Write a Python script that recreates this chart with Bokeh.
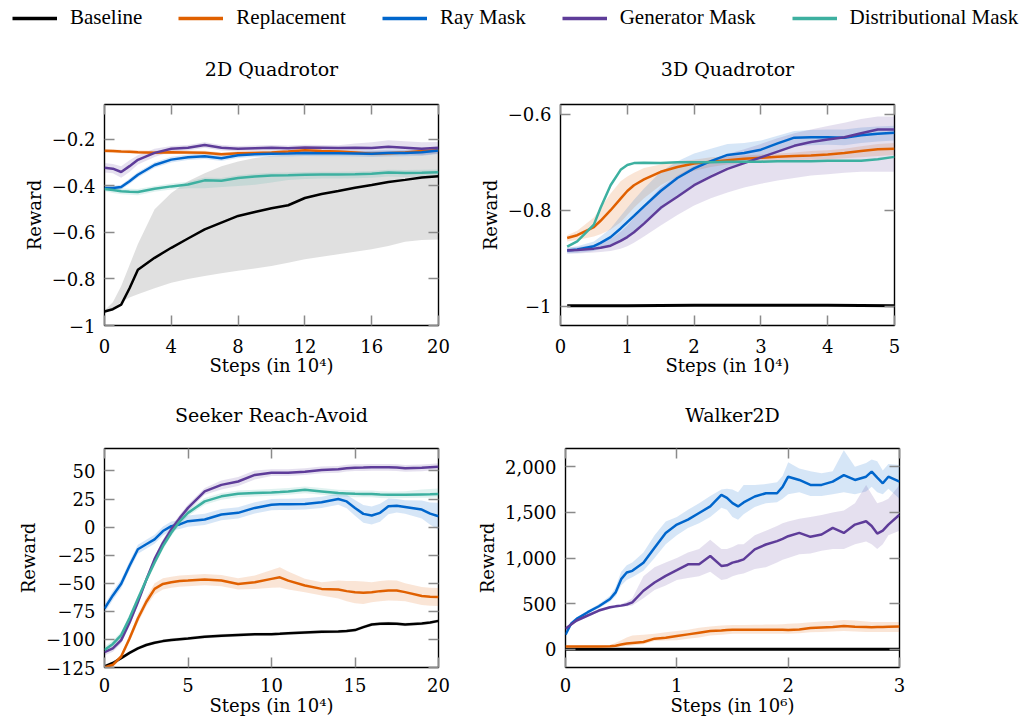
from bokeh.plotting import figure
from bokeh.models import (Legend, LegendItem, LinearAxis, FixedTicker, CustomLabelingPolicy,
                          CustomJSTickFormatter, Range1d, ColumnDataSource)
from bokeh.layouts import column, row
from bokeh.embed import file_html
from bokeh.resources import INLINE

# ---------------- series / colours ----------------
SERIES = ["Baseline", "Replacement", "Ray Mask", "Generator Mask", "Distributional Mask"]
COLORS = ["#000000", "#E06000", "#0066CC", "#5E3C99", "#3DB0A0"]

# ---------------- 2D Quadrotor ----------------
q2_x = [0, 0.5, 1, 1.5, 2, 3, 4, 5, 6, 7, 8, 9, 10, 11, 12, 13, 14, 15, 16, 17, 18, 19, 20]
q2_baseline = [-0.94, -0.93, -0.91, -0.84, -0.76, -0.709, -0.666, -0.626, -0.587, -0.558, -0.529, -0.512,
               -0.496, -0.483, -0.452, -0.435, -0.422, -0.408, -0.396, -0.383, -0.374, -0.364, -0.358]
q2_baseline_hi = [-0.935, -0.90, -0.83, -0.74, -0.65, -0.50, -0.43, -0.38, -0.345, -0.315, -0.295, -0.28,
                  -0.27, -0.265, -0.26, -0.26, -0.255, -0.255, -0.25, -0.25, -0.25, -0.25, -0.25]
q2_baseline_lo = [-0.95, -0.93, -0.90, -0.88, -0.866, -0.84, -0.816, -0.80, -0.787, -0.775, -0.765, -0.755,
                  -0.744, -0.73, -0.715, -0.705, -0.694, -0.683, -0.672, -0.658, -0.64, -0.632, -0.63]
q2_replacement = [-0.249, -0.25, -0.252, -0.253, -0.255, -0.257, -0.255, -0.256, -0.257, -0.264, -0.26, -0.258,
                  -0.256, -0.252, -0.247, -0.25, -0.252, -0.256, -0.262, -0.26, -0.256, -0.25, -0.247]
q2_replacement_hi = [-0.241, -0.242, -0.244, -0.245, -0.247, -0.249, -0.247, -0.248, -0.249, -0.256, -0.252, -0.25,
                     -0.248, -0.244, -0.239, -0.242, -0.244, -0.248, -0.254, -0.252, -0.248, -0.242, -0.239]
q2_replacement_lo = [-0.257, -0.258, -0.26, -0.261, -0.263, -0.265, -0.263, -0.264, -0.265, -0.272, -0.268, -0.266,
                     -0.264, -0.26, -0.255, -0.258, -0.26, -0.264, -0.27, -0.268, -0.264, -0.258, -0.255]
q2_ray = [-0.409, -0.409, -0.405, -0.38, -0.352, -0.31, -0.287, -0.277, -0.272, -0.281, -0.268, -0.264,
          -0.262, -0.261, -0.259, -0.26, -0.26, -0.261, -0.262, -0.259, -0.258, -0.255, -0.248]
q2_ray_hi = [-0.399, -0.399, -0.395, -0.368, -0.34, -0.298, -0.275, -0.265, -0.26, -0.269, -0.256, -0.252,
             -0.25, -0.249, -0.247, -0.248, -0.248, -0.249, -0.248, -0.245, -0.244, -0.24, -0.233]
q2_ray_lo = [-0.419, -0.419, -0.415, -0.392, -0.364, -0.322, -0.299, -0.289, -0.284, -0.293, -0.28, -0.276,
             -0.274, -0.273, -0.271, -0.272, -0.272, -0.273, -0.276, -0.273, -0.272, -0.27, -0.263]
q2_generator = [-0.322, -0.326, -0.34, -0.315, -0.288, -0.258, -0.24, -0.236, -0.224, -0.236, -0.24, -0.238,
                -0.236, -0.238, -0.235, -0.236, -0.237, -0.236, -0.237, -0.232, -0.236, -0.24, -0.236]
q2_generator_hi = [-0.302, -0.306, -0.315, -0.29, -0.268, -0.24, -0.228, -0.224, -0.212, -0.224, -0.228, -0.226,
                   -0.224, -0.226, -0.223, -0.224, -0.225, -0.218, -0.212, -0.204, -0.208, -0.212, -0.211]
q2_generator_lo = [-0.342, -0.346, -0.365, -0.34, -0.308, -0.276, -0.252, -0.248, -0.236, -0.248, -0.252, -0.25,
                   -0.248, -0.25, -0.247, -0.248, -0.249, -0.254, -0.262, -0.26, -0.264, -0.268, -0.261]
q2_distributional = [-0.413, -0.418, -0.423, -0.425, -0.426, -0.412, -0.402, -0.394, -0.376, -0.378, -0.366, -0.36,
                     -0.355, -0.354, -0.352, -0.351, -0.351, -0.35, -0.348, -0.342, -0.344, -0.343, -0.341]
q2_distributional_hi = [-0.403, -0.406, -0.41, -0.412, -0.413, -0.4, -0.39, -0.382, -0.364, -0.366, -0.354, -0.348,
                        -0.343, -0.342, -0.34, -0.339, -0.339, -0.338, -0.336, -0.33, -0.332, -0.331, -0.329]
q2_distributional_lo = [-0.423, -0.43, -0.436, -0.438, -0.44, -0.425, -0.415, -0.41, -0.41, -0.405, -0.40, -0.395,
                        -0.385, -0.375, -0.37, -0.368, -0.368, -0.367, -0.365, -0.36, -0.362, -0.361, -0.36]
q2_xticks = [0, 4, 8, 12, 16, 20]
q2_yticks = [-1, -0.8, -0.6, -0.4, -0.2]

# ---------------- 3D Quadrotor ----------------
q3_x = [0.1, 0.25, 0.5, 0.6, 0.75, 0.9, 1.0, 1.1, 1.25, 1.5, 1.75, 2.0, 2.25, 2.5, 2.75, 3.0, 3.25, 3.5,
        3.75, 4.0, 4.25, 4.5, 4.75, 5.0]
q3_baseline_x = [0.1, 1, 2, 3, 4, 5]
q3_baseline = [-0.999, -0.999, -0.998, -0.998, -0.998, -0.999]
q3_replacement = [-0.858, -0.852, -0.835, -0.822, -0.8, -0.776, -0.76, -0.748, -0.736, -0.72, -0.71, -0.703,
                  -0.699, -0.696, -0.693, -0.691, -0.689, -0.687, -0.686, -0.684, -0.681, -0.677, -0.673, -0.672]
q3_replacement_hi = [-0.852, -0.843, -0.815, -0.795, -0.765, -0.74, -0.73, -0.722, -0.712, -0.705, -0.698, -0.695,
                     -0.69, -0.688, -0.686, -0.684, -0.682, -0.68, -0.677, -0.675, -0.672, -0.667, -0.662, -0.66]
q3_replacement_lo = [-0.865, -0.862, -0.855, -0.85, -0.84, -0.825, -0.81, -0.795, -0.775, -0.748, -0.73, -0.718,
                     -0.71, -0.705, -0.702, -0.70, -0.698, -0.696, -0.695, -0.694, -0.692, -0.69, -0.687, -0.685]
q3_ray = [-0.884, -0.882, -0.875, -0.868, -0.856, -0.838, -0.825, -0.812, -0.792, -0.76, -0.733, -0.713,
          -0.698, -0.685, -0.681, -0.674, -0.661, -0.649, -0.648, -0.648, -0.649, -0.644, -0.641, -0.639]
q3_ray_hi = [-0.878, -0.875, -0.865, -0.855, -0.838, -0.812, -0.795, -0.778, -0.755, -0.72, -0.698, -0.682,
             -0.672, -0.662, -0.66, -0.655, -0.645, -0.635, -0.633, -0.632, -0.632, -0.628, -0.626, -0.624]
q3_ray_lo = [-0.89, -0.889, -0.885, -0.88, -0.872, -0.862, -0.855, -0.845, -0.828, -0.80, -0.77, -0.745,
             -0.727, -0.71, -0.703, -0.694, -0.68, -0.667, -0.665, -0.664, -0.665, -0.66, -0.657, -0.655]
q3_generator = [-0.884, -0.883, -0.88, -0.878, -0.874, -0.864, -0.856, -0.846, -0.828, -0.795, -0.772, -0.748,
                -0.73, -0.714, -0.702, -0.69, -0.678, -0.666, -0.658, -0.653, -0.648, -0.64, -0.632, -0.632]
q3_generator_hi = [-0.878, -0.877, -0.872, -0.868, -0.86, -0.845, -0.832, -0.815, -0.79, -0.752, -0.728, -0.708,
                   -0.695, -0.683, -0.673, -0.662, -0.65, -0.64, -0.632, -0.625, -0.618, -0.61, -0.605, -0.605]
q3_generator_lo = [-0.89, -0.89, -0.888, -0.887, -0.885, -0.88, -0.875, -0.868, -0.855, -0.832, -0.81, -0.79,
                   -0.775, -0.763, -0.753, -0.745, -0.738, -0.733, -0.728, -0.725, -0.722, -0.72, -0.72, -0.72]
q3_distributional = [-0.876, -0.865, -0.83, -0.795, -0.748, -0.716, -0.706, -0.702, -0.701, -0.702, -0.70, -0.70,
                     -0.70, -0.699, -0.699, -0.699, -0.698, -0.698, -0.698, -0.697, -0.697, -0.697, -0.694, -0.689]
q3_xticks = [0, 1, 2, 3, 4, 5]
q3_yticks = [-1, -0.8, -0.6]

# ---------------- Seeker Reach-Avoid ----------------
sk_x = [0, 0.5, 1, 1.5, 2, 2.5, 3, 3.5, 4, 4.5, 5, 6, 7, 8, 9, 10, 10.5, 11, 12, 13, 14, 14.5, 15, 15.5,
        16, 16.5, 17, 17.5, 18, 19, 19.5, 20]
sk_baseline = [-124.0, -121, -116.7, -112, -107.9, -105, -102.9, -101.5, -100.5, -99.8, -99.1, -97.6, -96.7,
               -96.1, -95.5, -95.3, -95, -94.6, -93.8, -93.2, -93.0, -92.5, -91.7, -89, -86.7, -86, -85.8, -86,
               -86.7, -85.8, -85, -83.5]
sk_baseline_hi = [-122.5, -119.5, -115.2, -110.5, -106.4, -103.5, -101.4, -100, -99, -98.3, -97.6, -96.1, -95.2,
                  -94.6, -94, -93.8, -93.5, -93.1, -92.3, -91.7, -91.5, -91, -90.2, -87.5, -85.2, -84.5, -84.3,
                  -84.5, -85.2, -84.3, -83.5, -82]
sk_baseline_lo = [-125.5, -122.5, -118.2, -113.5, -109.4, -106.5, -104.4, -103, -102, -101.3, -100.6, -99.1,
                  -98.2, -97.6, -97, -96.8, -96.5, -96.1, -95.3, -94.7, -94.5, -94, -93.2, -90.5, -88.2, -87.5,
                  -87.3, -87.5, -88.2, -87.3, -86.5, -85]
sk_replacement = [-124.9, -122.6, -115.2, -99.1, -81.4, -66.7, -55.0, -50.6, -49.1, -48, -47.6, -46.7, -47.6,
                  -50.6, -49.1, -46.1, -44.7, -47.6, -52.0, -55.0, -55.5, -57, -57.9, -58.5, -58, -57, -56.4,
                  -56.5, -57.9, -61.4, -62, -62.3]
sk_replacement_hi = [-122.9, -120.6, -113.2, -96.1, -77.4, -62.7, -50.0, -45.6, -44.1, -43, -42.6, -41.7, -42.6,
                     -45.6, -43.1, -38.1, -35.7, -39.6, -46.0, -49.0, -47.5, -48, -47.9, -48.5, -49, -48, -47.4,
                     -47.5, -49.9, -53.4, -54, -54.3]
sk_replacement_lo = [-126.9, -124.6, -117.2, -102.1, -85.4, -70.7, -60.0, -55.6, -54.1, -53, -52.6, -51.7,
                     -52.6, -55.6, -55.1, -54.1, -53.7, -55.6, -58.0, -61.0, -63.5, -66, -67.9, -68.5, -67, -66,
                     -65.4, -65.5, -65.9, -69.4, -70, -70.3]
sk_ray = [-72.6, -60.8, -50.5, -34.4, -19.7, -15.3, -10.9, -3.5, 0.9, 2.4, 5.3, 6.8, 11.2, 12.7, 17.1, 20.0,
          20.3, 20.3, 20.6, 22.1, 25.0, 22.9, 17.1, 11.8, 10.3, 12.7, 18.5, 19.1, 18.0, 15.6, 12, 9.7]
sk_ray_hi = [-68.6, -56.8, -46.5, -30.4, -15.7, -11.3, -6.9, 0.5, 4.9, 6.4, 10.3, 11.8, 16.2, 17.7, 22.1, 25.0,
             25.3, 25.3, 25.6, 27.1, 30.0, 28.9, 24.1, 19.8, 18.3, 20.7, 25.5, 25.1, 24.0, 23.6, 22, 21.7]
sk_ray_lo = [-76.6, -64.8, -54.5, -38.4, -23.7, -19.3, -14.9, -7.5, -3.1, -1.6, 0.3, 1.8, 6.2, 7.7, 12.1, 15.0,
             15.3, 15.3, 15.6, 17.1, 20.0, 16.9, 10.1, 3.8, 2.3, 4.7, 11.5, 13.1, 12.0, 7.6, 2, -2.3]
sk_generator = [-111.4, -108, -100.6, -85, -66.7, -47, -28.5, -14, -2.0, 8, 17.1, 31.8, 37.6, 40.6, 46.5, 48.5,
                48.5, 48.5, 49.4, 50.9, 51.5, 52.5, 52.9, 53, 53.2, 53.2, 53.2, 53, 52.4, 52.8, 53.3, 53.8]
sk_generator_hi = [-108.4, -105, -97.6, -82, -63.7, -44, -25.5, -11, 1.0, 11, 20.1, 34.8, 41.6, 44.6, 50.5, 51.5,
                   51.5, 51.5, 52.4, 53.9, 54.5, 55.5, 55.9, 56, 56.2, 56.2, 56.2, 56, 55.4, 55.8, 56.3, 56.8]
sk_generator_lo = [-114.4, -111, -103.6, -88, -69.7, -50, -31.5, -17, -5.0, 5, 14.1, 28.8, 33.6, 36.6, 42.5, 45.5,
                   45.5, 45.5, 46.4, 47.9, 48.5, 49.5, 49.9, 50, 50.2, 50.2, 50.2, 50, 49.4, 49.8, 50.3, 50.8]
sk_distributional = [-109.4, -104, -96.2, -81, -63.8, -47, -31.5, -17, -5.0, 5, 12.7, 22.9, 27.4, 29.7, 30.3,
                     30.9, 31.3, 31.8, 33.2, 31.8, 30.3, 30, 29.7, 29.5, 29.5, 29, 28.8, 28.8, 28.9, 29.1, 29.2,
                     29.4]
sk_distributional_hi = [-106.4, -101, -93.2, -78, -60.8, -44, -28.5, -14, -2.0, 8, 15.7, 25.9, 30.4, 32.7, 33.3,
                        33.9, 34.3, 34.8, 36.2, 34.8, 33.3, 33, 32.7, 32.5, 32.5, 32, 31.8, 31.8, 31.9, 33.5, 34,
                        34.4]
sk_distributional_lo = [-112.4, -107, -99.2, -84, -66.8, -50, -34.5, -20, -8.0, 2, 9.7, 19.9, 24.4, 26.7, 27.3,
                        27.9, 28.3, 28.8, 30.2, 28.8, 27.3, 27, 26.7, 26.5, 26.5, 26, 25.8, 25.8, 25.9, 26.1,
                        26.2, 26.4]
sk_xticks = [0, 5, 10, 15, 20]
sk_yticks = [-125, -100, -75, -50, -25, 0, 25, 50]

# ---------------- Walker2D ----------------
wk_x = [0, 0.05, 0.1, 0.2, 0.3, 0.4, 0.45, 0.5, 0.55, 0.6, 0.7, 0.8, 0.9, 1.0, 1.1, 1.2, 1.3, 1.4, 1.45, 1.5,
        1.55, 1.6, 1.7, 1.8, 1.9, 1.95, 2.0, 2.1, 2.2, 2.3, 2.4, 2.5, 2.6, 2.7, 2.75, 2.8, 2.85, 2.9, 3.0]
wk_baseline_x = [0, 0.5, 1, 1.5, 2, 2.5, 3]
wk_baseline = [0, 0, 0, 0, 0, 0, 0]
wk_replacement = [30, 30, 30, 30, 30, 32, 38, 51, 62, 69, 80, 116, 127, 145, 163, 181, 199, 206, 210, 214, 214,
                  214, 214, 214, 214, 214, 212, 217, 232, 238, 243, 254, 246, 243, 240, 243, 243, 246, 250]
wk_replacement_hi = [40, 40, 40, 40, 40, 45, 70, 100, 130, 150, 160, 170, 185, 200, 215, 235, 250, 260, 262, 265,
                     265, 265, 268, 270, 272, 275, 280, 285, 295, 305, 310, 320, 315, 305, 300, 300, 300, 300, 300]
wk_replacement_lo = [22, 22, 22, 22, 22, 22, 25, 30, 35, 40, 55, 90, 95, 100, 115, 130, 150, 160, 165, 170, 170,
                     170, 170, 170, 170, 170, 170, 175, 185, 190, 195, 200, 195, 190, 188, 188, 188, 190, 190]
wk_ray = [159, 279, 333, 406, 471, 551, 623, 768, 841, 859, 949, 1112, 1275, 1366, 1420, 1493, 1565, 1692, 1660,
          1601, 1565, 1609, 1674, 1710, 1710, 1780, 1891, 1855, 1801, 1801, 1837, 1909, 1855, 1891, 1946, 1880,
          1819, 1891, 1837]
wk_ray_hi = [170, 300, 350, 425, 495, 585, 680, 850, 920, 950, 1060, 1250, 1400, 1450, 1530, 1600, 1680, 1750,
             1760, 1750, 1720, 1800, 1800, 1810, 1830, 1900, 2050, 1980, 1950, 1930, 1950, 2180, 2000, 2040, 2080,
             2060, 1960, 2030, 2020]
wk_ray_lo = [150, 260, 315, 390, 450, 520, 580, 700, 760, 790, 860, 1000, 1150, 1250, 1330, 1380, 1450, 1550,
             1530, 1450, 1420, 1480, 1560, 1600, 1610, 1650, 1700, 1720, 1680, 1680, 1700, 1720, 1700, 1730, 1780,
             1720, 1700, 1760, 1650]
wk_generator = [225, 270, 315, 370, 424, 460, 470, 478, 490, 514, 641, 732, 804, 866, 931, 931, 1022, 913, 920,
                949, 965, 985, 1094, 1148, 1185, 1210, 1239, 1275, 1232, 1257, 1330, 1275, 1366, 1402, 1350, 1268,
                1300, 1366, 1475]
wk_generator_hi = [235, 285, 330, 385, 440, 475, 485, 495, 520, 560, 800, 900, 950, 1000, 1060, 1100, 1200, 1100,
                   1100, 1120, 1150, 1150, 1250, 1300, 1350, 1380, 1400, 1430, 1450, 1470, 1500, 1520, 1600, 1800,
                   1700, 1600, 1620, 1650, 1800]
wk_generator_lo = [215, 255, 300, 355, 410, 445, 455, 462, 470, 480, 560, 650, 700, 760, 780, 800, 850, 760, 770,
                   800, 820, 830, 880, 900, 950, 980, 1000, 1040, 1050, 1080, 1100, 1100, 1150, 1180, 1150, 1100,
                   1150, 1250, 1300]
wk_xticks = [0, 1, 2, 3]
wk_yticks = [0, 500, 1000, 1500, 2000]

# ---------------- styling helpers ----------------
FONT = "DejaVu Serif"
TICK_COLOR = "#8a8a8a"
fmt_code = """
const a = Math.abs(tick);
let s;
if (a >= 1000) { s = a.toLocaleString('en-US'); } else { s = String(parseFloat(a.toFixed(6))); }
return (tick < 0 ? "\\u2212" : "") + s;
"""
no_labels_code = """
const ks = Array.from(indices);
for (const k of ks) {
    if (typeof indices.unset === "function") { indices.unset(k); } else { indices.set(k, false); }
}
return indices;
"""


def style_axis(ax, ticks, label, label_standoff, axis_label_standoff):
    ax.ticker = FixedTicker(ticks=ticks)
    ax.formatter = CustomJSTickFormatter(code=fmt_code)
    ax.axis_line_color = None
    ax.major_tick_in = 10
    ax.major_tick_out = 0
    ax.minor_tick_line_color = None
    ax.major_tick_line_color = TICK_COLOR
    ax.major_tick_line_width = 1.5
    ax.major_label_text_font = FONT
    ax.major_label_text_font_size = "18px"
    ax.major_label_text_color = "black"
    ax.major_label_standoff = label_standoff
    ax.axis_label = label
    ax.axis_label_text_font = FONT
    ax.axis_label_text_font_size = "18px"
    ax.axis_label_text_font_style = "normal"
    ax.axis_label_text_color = "black"
    ax.axis_label_standoff = axis_label_standoff


def mirror(p, loc, ticks):
    # mirrored tick marks on the top / right edge, without labels
    ax = LinearAxis(ticker=FixedTicker(ticks=ticks), axis_line_color=None,
                    major_tick_in=10, major_tick_out=0, minor_tick_line_color=None,
                    major_tick_line_color=TICK_COLOR, major_tick_line_width=1.5,
                    major_label_standoff=0, major_label_text_font_size="0px",
                    major_label_policy=CustomLabelingPolicy(code=no_labels_code))
    p.add_layout(ax, loc)


def make_panel(title, xr, yr, xticks, yticks, xlabel, borders, frame_h, title_standoff,
               xlab_standoff, xaxis_standoff, bands, lines):
    left, right, top, bottom = borders
    p = figure(width=left + 334 + right, height=top + frame_h + bottom,
               frame_width=334, frame_height=frame_h,
               min_border_left=left, min_border_right=right,
               min_border_top=top, min_border_bottom=bottom,
               x_range=Range1d(*xr), y_range=Range1d(*yr),
               toolbar_location=None, output_backend="svg", title=title)
    p.title.text_font = FONT
    p.title.text_font_size = "19px"
    p.title.text_font_style = "normal"
    p.title.text_color = "black"
    p.title.align = "center"
    p.title.standoff = title_standoff
    p.grid.visible = False
    p.outline_line_color = "black"
    p.outline_line_width = 1.4
    p.background_fill_color = "white"
    p.border_fill_color = "white"
    style_axis(p.xaxis[0], xticks, xlabel, xlab_standoff, xaxis_standoff)
    style_axis(p.yaxis[0], yticks, "Reward", 9, 4)
    mirror(p, "above", xticks)
    mirror(p, "right", yticks)
    for (bx, lo, hi, color, alpha) in bands:
        p.varea(x=bx, y1=lo, y2=hi, fill_color=color, fill_alpha=alpha)
    for (lx, ly, color, width) in lines:
        p.line(lx, ly, line_color=color, line_width=width)
    return p


BAND_A = 0.16
TOP_B = (73, 221, 54)      # top border, frame height, bottom border (upper row)
BOT_B = (67, 219, 53)      # (lower row)

p1 = make_panel("2D Quadrotor", (0, 20), (-1, -0.05), q2_xticks, q2_yticks, "Steps (in 10\u2074)",
                (104, 32, TOP_B[0], TOP_B[2]), TOP_B[1], 50, 13, -1,
                [(q2_x, q2_baseline_lo, q2_baseline_hi, "#000000", 0.12),
                 (q2_x, q2_replacement_lo, q2_replacement_hi, COLORS[1], BAND_A),
                 (q2_x, q2_ray_lo, q2_ray_hi, COLORS[2], BAND_A),
                 (q2_x, q2_generator_lo, q2_generator_hi, COLORS[3], BAND_A),
                 (q2_x, q2_distributional_lo, q2_distributional_hi, COLORS[4], BAND_A)],
                [(q2_x, q2_baseline, COLORS[0], 2.5),
                 (q2_x, q2_replacement, COLORS[1], 2.5),
                 (q2_x, q2_ray, COLORS[2], 2.5),
                 (q2_x, q2_generator, COLORS[3], 2.5),
                 (q2_x, q2_distributional, COLORS[4], 2.5)])

p2 = make_panel("3D Quadrotor", (0, 5), (-1.04, -0.58), q3_xticks, q3_yticks, "Steps (in 10\u2074)",
                (90, 129, TOP_B[0], TOP_B[2]), TOP_B[1], 50, 13, -1,
                [(q3_x, q3_replacement_lo, q3_replacement_hi, COLORS[1], BAND_A),
                 (q3_x, q3_ray_lo, q3_ray_hi, COLORS[2], BAND_A),
                 (q3_x, q3_generator_lo, q3_generator_hi, COLORS[3], BAND_A)],
                [(q3_baseline_x, q3_baseline, COLORS[0], 3),
                 (q3_x, q3_replacement, COLORS[1], 2.5),
                 (q3_x, q3_ray, COLORS[2], 2.5),
                 (q3_x, q3_generator, COLORS[3], 2.5),
                 (q3_x, q3_distributional, COLORS[4], 2.5)])

p3 = make_panel("Seeker Reach-Avoid", (0, 20), (-125, 70), sk_xticks, sk_yticks, "Steps (in 10\u2074)",
                (104, 32, BOT_B[0], BOT_B[2]), BOT_B[1], 45, 10, 0,
                [(sk_x, sk_baseline_lo, sk_baseline_hi, "#000000", 0.12),
                 (sk_x, sk_replacement_lo, sk_replacement_hi, COLORS[1], BAND_A),
                 (sk_x, sk_ray_lo, sk_ray_hi, COLORS[2], BAND_A),
                 (sk_x, sk_generator_lo, sk_generator_hi, COLORS[3], BAND_A),
                 (sk_x, sk_distributional_lo, sk_distributional_hi, COLORS[4], BAND_A)],
                [(sk_x, sk_baseline, COLORS[0], 2.5),
                 (sk_x, sk_replacement, COLORS[1], 2.5),
                 (sk_x, sk_ray, COLORS[2], 2.5),
                 (sk_x, sk_generator, COLORS[3], 2.5),
                 (sk_x, sk_distributional, COLORS[4], 2.5)])

p4 = make_panel("Walker2D", (0, 3), (-200, 2200), wk_xticks, wk_yticks, "Steps (in 10\u2076)",
                (95, 124, BOT_B[0], BOT_B[2]), BOT_B[1], 45, 10, 0,
                [(wk_x, wk_replacement_lo, wk_replacement_hi, COLORS[1], BAND_A),
                 (wk_x, wk_ray_lo, wk_ray_hi, COLORS[2], BAND_A),
                 (wk_x, wk_generator_lo, wk_generator_hi, COLORS[3], BAND_A)],
                [(wk_baseline_x, wk_baseline, COLORS[0], 3),
                 (wk_x, wk_replacement, COLORS[1], 2.5),
                 (wk_x, wk_ray, COLORS[2], 2.5),
                 (wk_x, wk_generator, COLORS[3], 2.5)])

# ---------------- shared legend ----------------
leg = figure(width=1023, height=30, toolbar_location=None, output_backend="svg",
             x_axis_type=None, y_axis_type=None, min_border=0, outline_line_color=None,
             x_range=Range1d(0, 1), y_range=Range1d(0, 1))
leg.grid.visible = False
items = []
for name, color in zip(SERIES, COLORS):
    # proxy renderers (outside the visible range) that only feed the legend
    r = leg.line(x="x", y="y", source=ColumnDataSource(data=dict(x=[-10, -9], y=[-10, -9])),
                 line_color=color, line_width=3.5)
    items.append(LegendItem(label=name, renderers=[r]))
legend = Legend(items=items, orientation="horizontal", location=(12, 0),
                border_line_color=None, background_fill_alpha=0, padding=0, margin=0,
                spacing=36, glyph_width=45, glyph_height=20, label_standoff=13,
                label_text_font="Liberation Serif", label_text_font_size="21px",
                label_text_color="black")
leg.add_layout(legend, "center")

layout = column(leg, row(p1, p2), row(p3, p4))
open("out.html", "w").write(file_html(layout, INLINE))
